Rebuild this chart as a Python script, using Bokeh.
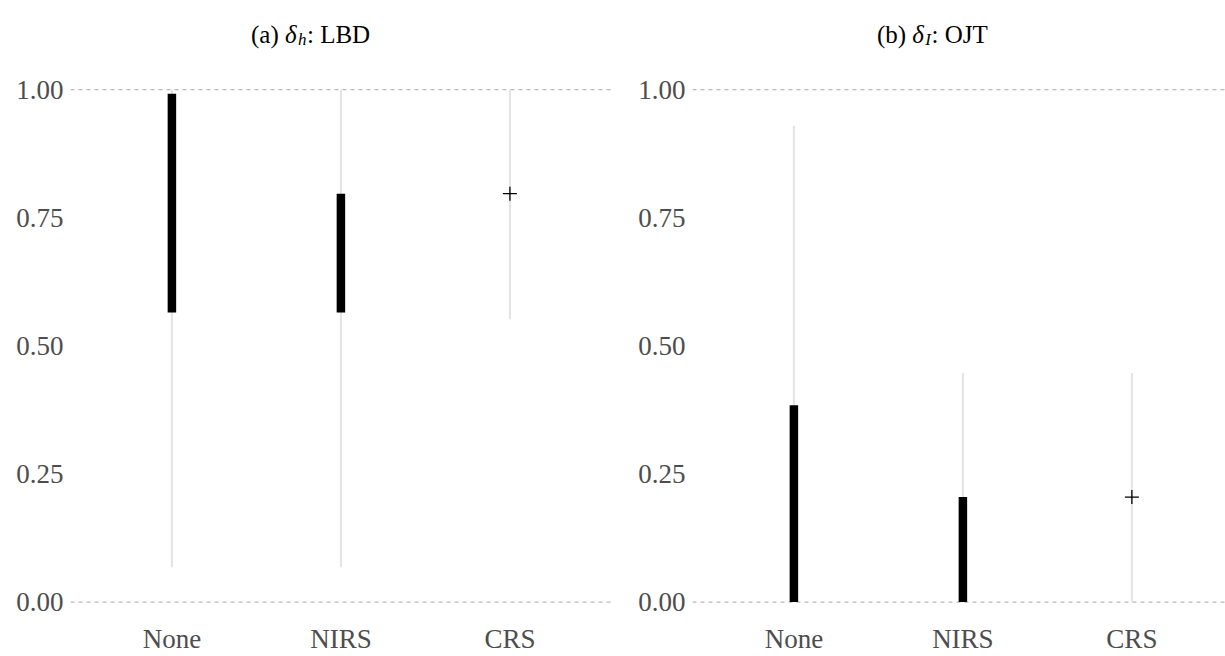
from bokeh.plotting import figure
from bokeh.layouts import row
from bokeh.models import Range1d, FixedTicker, NumeralTickFormatter, Span, Label
from bokeh.embed import file_html
from bokeh.resources import INLINE

# ---------------- data ----------------
categories = ["None", "NIRS", "CRS"]
y_ticks = [0.0, 0.25, 0.50, 0.75, 1.00]
ref_lines = [0.0, 1.0]

# panel (a): delta_h, LBD
a_range_lo = [0.068, 0.068, 0.552]
a_range_hi = [1.000, 1.000, 1.000]
a_set_lo = [0.565, 0.565]
a_set_hi = [0.992, 0.797]
a_point = [0.797]

# panel (b): delta_I, OJT
b_range_lo = [0.000, 0.000, 0.000]
b_range_hi = [0.929, 0.447, 0.447]
b_set_lo = [0.000, 0.000]
b_set_hi = [0.384, 0.205]
b_point = [0.205]

FONT = "Liberation Serif"
TICK_COLOR = "#4d4d4d"
Y0, Y1 = -0.0379, 1.1741
TITLE_X = 1.817
TITLE_Y = 1.108


def panel(width, border_left, border_right, x_end, rlo, rhi, slo, shi, pt, title_parts):
    p = figure(width=width, height=656,
               x_range=Range1d(0.4, x_end), y_range=Range1d(Y0, Y1),
               output_backend="svg", toolbar_location=None,
               min_border_left=border_left, min_border_right=border_right,
               min_border_top=0, min_border_bottom=33)
    p.outline_line_color = None
    p.background_fill_color = "white"
    p.border_fill_color = "white"
    p.grid.visible = False

    xs = [i + 1 for i in range(len(categories))]

    for v in ref_lines:
        p.add_layout(Span(location=v, dimension="width", line_color="#a8a8a8",
                          line_width=1, line_dash="4 4", level="underlay"))

    p.segment(xs, rlo, xs, rhi, line_color="#e3e3e3", line_width=2)
    p.segment(xs[:len(slo)], slo, xs[:len(shi)], shi, line_color="black",
              line_width=8.5, line_cap="butt")
    p.scatter(xs[len(slo):], pt, marker="cross", size=14, line_color="black",
              line_width=1.3)

    p.xaxis.ticker = FixedTicker(ticks=xs)
    p.xaxis.major_label_overrides = {x: c for x, c in zip(xs, categories)}
    p.yaxis.ticker = FixedTicker(ticks=y_ticks)
    p.yaxis.formatter = NumeralTickFormatter(format="0.00")
    for ax in (p.xaxis, p.yaxis):
        ax.axis_line_color = None
        ax.major_tick_line_color = None
        ax.minor_tick_line_color = None
        ax.major_tick_out = 0
        ax.major_tick_in = 0
        ax.major_label_text_font = FONT
        ax.major_label_text_font_size = "27px"
        ax.major_label_text_color = TICK_COLOR
    p.xaxis.major_label_standoff = 2
    p.yaxis.major_label_standoff = 7

    for text, dx, dy, size, style in title_parts:
        p.add_layout(Label(x=TITLE_X, y=TITLE_Y, x_offset=dx, y_offset=dy,
                           text=text, text_font=FONT, text_font_size=size,
                           text_font_style=style, text_color="black",
                           text_align="left", text_baseline="alphabetic"))
    return p


title_a = [("(a)", -59.0, 0, "25px", "normal"),
           ("δ", -25.0, 0, "25px", "italic"),
           ("h", -12.0, -5, "17px", "italic"),
           (": LBD", -3.0, 0, "25px", "normal")]
title_b = [("(b)", -55.0, 0, "25px", "normal"),
           ("δ", -19.6, 0, "25px", "italic"),
           ("I", -6.6, -5, "17px", "italic"),
           (": OJT", -0.5, 0, "25px", "normal")]

pa = panel(630, 70, 18, 3.607, a_range_lo, a_range_hi, a_set_lo, a_set_hi, a_point, title_a)
pb = panel(595, 62, 0, 3.554, b_range_lo, b_range_hi, b_set_lo, b_set_hi, b_point, title_b)

layout = row(pa, pb, spacing=0)
open("out.html", "w").write(file_html(layout, INLINE))
